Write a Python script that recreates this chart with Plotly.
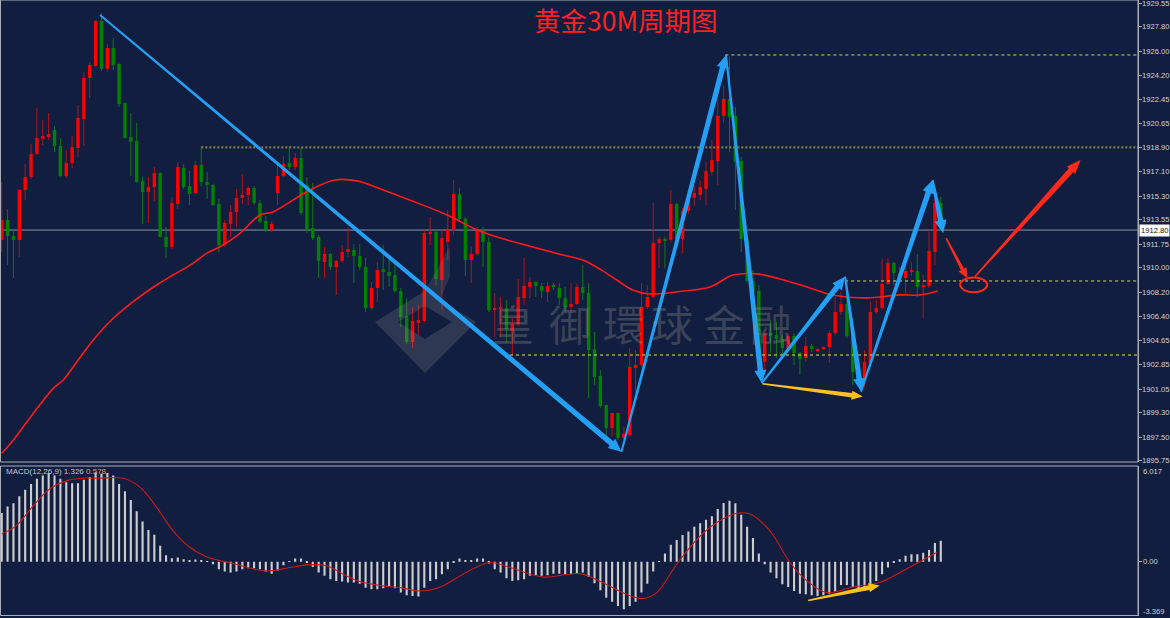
import plotly.graph_objects as go

# ---------------- data ----------------
opens = [1912.07,1913.54,1912.36,1912.07,1915.76,1916.72,1918.42,1919.53,1919.67,1920.19,
         1919.01,1916.79,1917.75,1918.86,1921.00,1924.03,1924.92,1928.24,1924.70,1926.25,
         1925.06,1922.18,1919.67,1919.38,1916.42,1915.61,1915.98,1917.01,1912.29,1911.55,
         1914.72,1917.38,1916.05,1915.54,1917.60,1916.35,1916.13,1914.72,1911.70,1913.25,
         1914.13,1915.17,1915.39,1915.91,1914.80,1913.47,1912.81,1915.54,1916.79,1917.75,
         1917.46,1918.12,1916.13,1912.95,1912.29,1910.44,1911.03,1910.07,1910.52,1911.18,
         1911.33,1910.88,1910.07,1907.04,1908.52,1909.92,1909.70,1909.48,1908.30,1906.45,
         1904.53,1905.94,1906.08,1912.51,1912.66,1909.11,1911.92,1912.88,1915.46,1913.62,
         1910.59,1911.03,1912.73,1911.92,1906.90,1906.97,1907.04,1905.35,1905.86,1907.78,
         1908.60,1908.97,1908.67,1908.23,1908.67,1908.52,1907.78,1907.12,1907.34,1908.60,
         1908.15,1904.01,1902.02,1899.88,1898.18,1899.29,1897.44,1897.67,1902.61,1902.84,
         1907.12,1907.86,1911.84,1912.14,1912.07,1914.72,1912.14,1914.21,1915.17,1915.39,
         1915.83,1917.09,1917.90,1921.23,1922.48,1921.23,1917.90,1912.14,1909.04,1908.30,
         1903.06,1905.20,1905.05,1904.75,1904.09,1904.98,1903.72,1903.35,1904.24,1903.87,
         1904.01,1904.16,1905.20,1906.75,1907.34,1905.05,1902.46,1901.73,1902.98,1906.75,
         1907.04,1908.82,1910.37,1909.63,1909.26,1909.70,1909.78,1908.60,1908.67,1911.18,
         1914.80]
closes = [1913.54,1912.36,1912.07,1915.76,1916.72,1918.42,1919.60,1919.75,1919.89,1919.01,
          1916.79,1917.75,1918.94,1921.08,1924.03,1924.99,1928.24,1924.70,1926.25,1924.99,
          1922.11,1919.60,1919.30,1916.35,1915.61,1915.98,1917.01,1912.29,1911.55,1914.80,
          1917.46,1915.98,1915.46,1917.60,1916.35,1916.13,1914.65,1911.70,1913.32,1914.13,
          1915.17,1915.39,1915.91,1914.80,1913.40,1912.81,1913.25,1916.79,1917.68,1917.46,
          1918.12,1914.06,1912.81,1912.21,1910.52,1911.03,1910.07,1910.52,1911.18,1911.40,
          1910.88,1910.07,1907.04,1908.52,1909.85,1909.70,1909.41,1908.30,1906.38,1904.53,
          1906.08,1906.16,1912.58,1912.58,1909.19,1912.21,1912.88,1915.46,1913.62,1910.59,
          1911.03,1912.73,1911.92,1906.90,1907.04,1907.04,1905.49,1905.86,1907.86,1908.67,
          1908.97,1908.67,1908.30,1908.67,1908.60,1907.78,1907.12,1907.34,1908.60,1908.15,
          1903.94,1901.95,1899.80,1898.18,1899.29,1897.44,1897.74,1902.69,1902.84,1907.12,
          1907.86,1911.84,1912.14,1911.99,1914.72,1912.14,1914.21,1915.17,1915.54,1915.98,
          1917.16,1917.97,1921.23,1922.48,1921.15,1917.83,1912.14,1909.04,1908.30,1903.06,
          1905.12,1904.98,1904.75,1904.09,1904.98,1903.72,1903.28,1904.24,1904.01,1904.01,
          1904.16,1905.20,1906.75,1907.34,1904.98,1902.32,1901.73,1903.06,1906.75,1907.04,
          1908.82,1910.37,1909.63,1909.26,1909.78,1909.85,1908.60,1908.67,1911.25,1914.80,
          1912.80]
highs = [1916.35,1914.35,1912.81,1915.83,1917.68,1919.16,1921.82,1920.93,1921.44,1920.49,
         1919.60,1918.71,1919.75,1922.04,1924.47,1925.21,1928.30,1928.83,1926.54,1926.98,
         1925.10,1922.20,1921.44,1920.71,1916.72,1916.72,1917.46,1917.05,1913.03,1915.24,
         1917.83,1917.68,1917.16,1917.90,1919.01,1917.09,1916.20,1915.10,1913.54,1914.65,
         1915.83,1916.94,1916.05,1916.05,1915.02,1913.84,1913.47,1917.75,1918.27,1919.01,
         1918.49,1918.86,1916.72,1916.27,1912.43,1911.55,1911.10,1910.60,1911.70,1913.03,
         1911.77,1911.77,1910.74,1908.97,1910.44,1911.70,1910.81,1910.59,1908.52,1907.78,
         1907.12,1907.26,1912.81,1913.76,1912.81,1912.81,1914.28,1916.50,1915.91,1913.76,
         1911.62,1913.03,1913.03,1912.29,1908.15,1907.86,1907.63,1906.30,1909.19,1910.74,
         1909.33,1909.00,1908.89,1908.97,1908.89,1908.89,1908.60,1908.89,1908.82,1910.22,
         1908.89,1905.27,1902.46,1899.90,1899.30,1899.30,1898.26,1904.09,1903.94,1908.89,
         1908.74,1914.80,1912.29,1912.29,1915.76,1914.80,1914.43,1915.50,1916.10,1916.50,
         1917.83,1919.45,1924.10,1923.51,1925.60,1921.89,1918.20,1912.29,1909.85,1908.74,
         1905.27,1906.16,1906.01,1905.05,1905.20,1905.20,1903.79,1904.90,1904.38,1904.05,
         1904.20,1905.42,1907.86,1908.23,1909.00,1906.30,1903.06,1903.94,1907.49,1907.63,
         1910.66,1910.74,1910.44,1910.07,1910.59,1910.44,1911.03,1909.48,1912.66,1915.98,
         1915.24]
lows = [1911.18,1910.22,1909.26,1910.81,1915.02,1916.57,1918.35,1919.08,1919.45,1918.57,
        1916.72,1916.64,1917.38,1918.20,1919.01,1922.55,1924.85,1924.55,1924.47,1924.62,
        1921.89,1919.55,1916.79,1916.30,1913.25,1913.32,1914.95,1912.25,1910.74,1911.40,
        1914.35,1915.83,1914.65,1915.50,1916.05,1915.10,1914.58,1911.18,1911.55,1912.29,
        1913.03,1914.72,1914.65,1914.65,1913.32,1912.66,1912.66,1914.65,1916.72,1917.24,
        1917.24,1913.91,1912.58,1912.07,1909.26,1909.26,1909.85,1908.00,1910.37,1910.81,
        1908.89,1909.85,1906.75,1906.90,1907.49,1908.37,1908.60,1908.15,1905.64,1904.38,
        1904.09,1905.05,1905.94,1911.70,1908.74,1906.90,1910.59,1912.43,1913.40,1909.41,
        1908.89,1910.88,1910.07,1906.75,1904.90,1904.90,1904.46,1903.57,1905.72,1907.26,
        1907.78,1907.86,1907.78,1907.49,1908.37,1907.26,1906.67,1906.67,1907.26,1907.63,
        1900.40,1901.36,1899.66,1897.07,1897.59,1897.29,1897.29,1897.52,1900.77,1902.69,
        1906.97,1907.71,1910.00,1910.00,1911.92,1911.99,1911.10,1914.00,1914.60,1915.00,
        1914.65,1916.86,1916.13,1920.71,1918.57,1914.28,1911.18,1908.89,1907.63,1902.10,
        1902.46,1903.72,1903.35,1903.57,1903.94,1902.84,1902.10,1903.06,1903.79,1903.80,
        1903.95,1902.98,1905.05,1906.53,1904.83,1901.36,1901.50,1901.21,1902.84,1906.60,
        1906.90,1908.74,1908.74,1908.97,1908.00,1909.41,1907.86,1906.30,1908.52,1910.22,
        1912.75]

# moving average: (bar index, price)
ma_idx = [0, 2.0, 5.4, 8.8, 10.5, 12.2, 15.6, 18.4, 22.4, 26.4, 29.2, 32.6, 34.9, 37.2, 40.6,
          44.0, 46.3, 52.5, 56.8, 60.5, 65.0, 69.5, 75.9, 81.0, 86.1, 90.5, 95.6, 99.0, 102.0,
          104.8, 107.5, 110.4, 116.1, 120.7, 124.6, 128.7, 132.6, 137.2, 141.6, 147.4, 153.0,
          156.4, 159.5]
ma_val = [1896.31, 1897.30, 1899.27, 1901.11, 1901.73, 1902.71, 1904.68, 1906.03, 1907.51,
          1908.74, 1909.48, 1910.34, 1911.08, 1911.57, 1912.56, 1913.91, 1914.16, 1915.76,
          1916.50, 1916.43, 1915.76, 1915.02, 1913.91, 1912.81, 1912.07, 1911.55, 1910.96,
          1910.59, 1909.90, 1909.11, 1908.38, 1908.08, 1908.30, 1908.60, 1909.48, 1909.56,
          1909.19, 1908.60, 1908.01, 1907.79, 1908.01, 1908.00, 1908.30]

macd_hist = [3.07,3.47,3.68,4.12,4.52,4.89,5.21,5.42,5.57,5.42,5.21,5.00,4.94,4.94,5.15,5.32,
             5.63,5.53,5.57,5.42,4.89,4.43,3.89,3.17,2.54,2.00,1.70,1.01,0.42,0.23,0.27,0.17,
             0.06,0.15,0.10,0.02,-0.15,-0.46,-0.61,-0.67,-0.61,-0.46,-0.40,-0.40,-0.46,-0.61,
             -0.74,-0.53,-0.21,0.02,0.21,0.21,-0.06,-0.32,-0.67,-0.88,-1.09,-1.20,-1.24,-1.30,
             -1.30,-1.37,-1.62,-1.72,-1.72,-1.66,-1.58,-1.66,-1.93,-2.10,-2.14,-2.18,-1.62,
             -1.20,-1.09,-0.78,-0.46,-0.04,0.21,0.10,0.10,0.21,0.21,-0.10,-0.46,-0.67,-1.03,
             -1.20,-1.16,-1.09,-0.88,-0.84,-0.88,-0.84,-0.74,-0.74,-0.78,-0.78,-0.74,-0.67,
             -0.95,-1.34,-1.79,-2.25,-2.50,-2.77,-2.98,-2.77,-2.50,-1.93,-1.37,-0.61,0.02,0.53,
             1.07,1.37,1.68,1.91,2.21,2.42,2.65,2.86,3.32,3.70,3.84,3.68,2.96,2.21,1.49,0.53,
             -0.15,-0.67,-1.03,-1.41,-1.58,-1.83,-2.00,-2.04,-2.10,-2.14,-2.10,-2.00,-1.87,
             -1.45,-1.45,-1.58,-1.66,-1.66,-1.45,-1.20,-0.78,-0.36,-0.06,0.17,0.38,0.48,0.48,
             0.57,0.74,1.18,1.33]
sig_idx = [0, 2.5, 5.4, 8.2, 11.1, 13.9, 16.7, 20.7, 23.6, 26.4, 29.2, 32.1, 34.9, 39.4, 45.1,
           49.1, 52.0, 55.4, 58.2, 61.0, 65.0, 67.9, 71.3, 74.7, 78.1, 80.5, 83.2, 86.6, 92.2,
           98.5, 102.4, 105.8, 109.1, 111.6, 115.0, 118.5, 121.9, 125.3, 127.5, 130.9, 134.3,
           137.2, 140.6, 145.0, 149.6, 153.5, 159.3]
sig_val = [1.74, 2.27, 3.53, 4.58, 5.10, 5.25, 5.25, 5.25, 4.68, 3.42, 1.95, 0.90, 0.32, -0.11,
           -0.57, -0.36, -0.19, -0.25, -0.78, -1.24, -1.51, -1.62, -1.83, -1.58, -0.88, -0.40,
           -0.04, -0.36, -0.95, -0.74, -1.30, -1.93, -2.31, -1.93, -0.15, 1.43, 2.48, 3.05,
           3.00, 1.95, -0.04, -1.20, -1.93, -1.58, -1.30, -0.57, 0.59]

price_ticks = [1929.55, 1927.80, 1926.00, 1924.20, 1922.45, 1920.65, 1918.90, 1917.10, 1915.30,
               1913.55, 1911.75, 1910.00, 1908.20, 1906.40, 1904.65, 1902.85, 1901.05, 1899.30,
               1897.50, 1895.75]
last_price = 1912.80
macd_max, macd_min = 6.017, -3.369
macd_last, signal_last = 1.326, 0.578

# drawn lines / arrows (bar index, price)
blue_arrows = [((16.75, 1928.69), (105.6, 1896.43)),
               ((105.6, 1896.43), (123.4, 1925.73)),
               ((123.4, 1925.73), (129.5, 1901.49)),
               ((129.5, 1901.49), (143.7, 1909.36)),
               ((143.7, 1909.36), (146.4, 1900.87)),
               ((146.4, 1900.87), (158.6, 1916.50)),
               ((158.6, 1916.50), (160.4, 1912.56))]
level_lines = [(34, 1918.90, "#7f7f3c", "2px,2px", 2.2),
               (123.3, 1925.73, "#d6d64a", "3px,3px", 1),
               (86.6, 1903.57, "#e6e640", "3px,3px", 1),
               (143.7, 1909.04, "#d6d64a", "3px,3px", 1)]

# ---------------- layout geometry ----------------
W, H = 1170, 618
PR = 1138          # right edge of plot area (px)
P_BOT = 462        # bottom of price panel (px)
M_TOP, M_BOT = 466, 615.5
XMIN, XMAX = -0.29, 193.6
YMIN, YMAX = 1895.67, 1929.79

BG = "#111e3f"
FONT = "Liberation Sans"
LBL = dict(family=FONT, size=7.6, color="#d0d4dc")
n = len(opens)
idx = list(range(n))

sx = PR / (XMAX - XMIN)
sy = P_BOT / (YMAX - YMIN)
sy2 = (M_BOT - M_TOP) / (macd_max - macd_min)


def pxx(x):
    return x / W


def pxy(y):
    return 1 - y / H


def arrow_path(p0, p1, w0, w1, hl, hw, ky):
    X0, Y0 = p0[0] * sx, p0[1] * ky
    X1, Y1 = p1[0] * sx, p1[1] * ky
    dx, dy = X1 - X0, Y1 - Y0
    L = (dx * dx + dy * dy) ** 0.5
    ux, uy = dx / L, dy / L
    nx, ny = -uy, ux
    bx, by = X1 - ux * hl, Y1 - uy * hl
    pts = [(X0 + nx * w0 / 2, Y0 + ny * w0 / 2), (bx + nx * w1 / 2, by + ny * w1 / 2),
           (bx + nx * hw / 2, by + ny * hw / 2), (X1, Y1),
           (bx - nx * hw / 2, by - ny * hw / 2), (bx - nx * w1 / 2, by - ny * w1 / 2),
           (X0 - nx * w0 / 2, Y0 - ny * w0 / 2)]
    return "M" + " L".join(f"{a / sx:.4f},{b / ky:.4f}" for a, b in pts) + " Z"


fig = go.Figure()

# wicks
for up, col in ((True, "#b3141a"), (False, "#12761a")):
    xs, ys = [], []
    for i in idx:
        if (closes[i] >= opens[i]) != up:
            continue
        top, bot = max(opens[i], closes[i]), min(opens[i], closes[i])
        xs += [i, i, None, i, i, None]
        ys += [max(highs[i], top), top, None, bot, min(lows[i], bot), None]
    fig.add_trace(go.Scatter(x=xs, y=ys, mode="lines", line=dict(color=col, width=1),
                             hoverinfo="skip", showlegend=False, xaxis="x", yaxis="y"))

# bodies
for up, col in ((True, "#ff0000"), (False, "#008200")):
    bx, base, hgt = [], [], []
    for i in idx:
        if (closes[i] >= opens[i]) != up:
            continue
        bx.append(i)
        base.append(min(opens[i], closes[i]))
        hgt.append(max(abs(closes[i] - opens[i]), 0.09))
    fig.add_trace(go.Bar(x=bx, y=hgt, base=base, width=0.58, marker=dict(color=col, line=dict(width=0)),
                         showlegend=False, hoverinfo="skip", xaxis="x", yaxis="y"))

# moving average
fig.add_trace(go.Scatter(x=ma_idx, y=ma_val, mode="lines", line=dict(color="#ff1a1a", width=1.6, shape="spline"),
                         showlegend=False, hoverinfo="skip", xaxis="x", yaxis="y"))

# MACD
fig.add_trace(go.Bar(x=idx, y=macd_hist, width=0.36, marker=dict(color="#cdcdcd", line=dict(width=0)),
                     showlegend=False, hoverinfo="skip", xaxis="x2", yaxis="y2"))
fig.add_trace(go.Scatter(x=sig_idx, y=sig_val, mode="lines", line=dict(color="#d01818", width=1.1, shape="spline"),
                         showlegend=False, hoverinfo="skip", xaxis="x2", yaxis="y2"))

shapes = []
shapes.append(dict(type="line", xref="x", yref="y", x0=XMIN, x1=XMAX, y0=last_price, y1=last_price,
                   line=dict(color="#8e94a4", width=1), layer="below"))
for x0, yv, col, dash, lw in level_lines:
    shapes.append(dict(type="line", xref="x", yref="y", x0=x0, x1=XMAX, y0=yv, y1=yv,
                       line=dict(color=col, width=lw, dash=dash)))


def pp(pts):
    return "M" + " L".join(f"{pxx(a):.5f},{pxy(b):.5f}" for a, b in pts) + " Z"


# watermark logo (faint)
shapes.append(dict(type="path", xref="paper", yref="paper",
                   path=pp([(375, 322), (425, 291), (476, 322), (425, 373)]) + " " +
                   pp([(398, 322), (425, 339), (452, 322), (425, 306)]),
                   fillcolor="rgba(150,150,150,0.22)", line=dict(width=0)))
shapes.append(dict(type="path", xref="paper", yref="paper",
                   path=pp([(425, 291), (450, 246), (450, 276), (440, 300)]),
                   fillcolor="rgba(150,150,150,0.18)", line=dict(width=0)))

for p0, p1 in blue_arrows:
    shapes.append(dict(type="path", xref="x", yref="y", path=arrow_path(p0, p1, 2.0, 5.5, 13, 12, sy),
                       fillcolor="#23a0f6", line=dict(width=0)))
shapes.append(dict(type="path", xref="x", yref="y",
                   path=arrow_path((129.6, 1901.45), (146.7, 1900.50), 1.5, 4.5, 11, 9, sy),
                   fillcolor="#ffc21a", line=dict(width=0)))
shapes.append(dict(type="path", xref="x", yref="y",
                   path=arrow_path((160.9, 1912.20), (164.5, 1909.24), 1.5, 3.5, 10, 9, sy),
                   fillcolor="#ff2a1a", line=dict(width=0)))
shapes.append(dict(type="path", xref="x", yref="y",
                   path=arrow_path((165.8, 1909.36), (183.8, 1917.98), 1.5, 6, 14, 11, sy),
                   fillcolor="#ff2a1a", line=dict(width=0)))
shapes.append(dict(type="circle", xref="x", yref="y", x0=163.3, x1=167.9, y0=1908.21, y1=1909.30,
                   line=dict(color="#ff2a1a", width=2)))
shapes.append(dict(type="path", xref="x2", yref="y2",
                   path=arrow_path((137.4, -2.43), (149.6, -1.48), 1.5, 4.5, 11, 9, sy2),
                   fillcolor="#ffc21a", line=dict(width=0)))

shapes.append(dict(type="rect", xref="paper", yref="paper", x0=pxx(0.5), x1=pxx(PR), y0=pxy(P_BOT), y1=pxy(0),
                   line=dict(color="#a9adb5", width=1)))
shapes.append(dict(type="rect", xref="paper", yref="paper", x0=pxx(0.5), x1=pxx(PR), y0=pxy(M_BOT), y1=pxy(M_TOP),
                   line=dict(color="#a9adb5", width=1)))

annotations = []
annotations.append(dict(xref="paper", yref="paper", x=pxx(625), y=pxy(20), text="黄金30M周期图",
                        showarrow=False, font=dict(family="Noto Sans CJK SC", size=26.5, color="#ff2020"),
                        xanchor="center", yanchor="middle"))
for ch, cx in zip("皇御環球金融", [513, 570, 624, 672, 724, 771]):
    annotations.append(dict(xref="paper", yref="paper", x=pxx(cx), y=pxy(322), text=ch, showarrow=False,
                            font=dict(family="Noto Sans CJK TC", size=42, color="rgba(140,140,140,0.35)"),
                            xanchor="center", yanchor="middle"))
# price scale labels (placed beside the axis ticks)
for v in price_ticks:
    yv = min(v, YMAX - 0.25)
    annotations.append(dict(xref="paper", yref="y", x=pxx(PR + 3), y=yv, text=f"{v:.2f}", showarrow=False,
                            font=LBL, xanchor="left", yanchor="middle", borderpad=0, xshift=0))
annotations.append(dict(xref="paper", yref="y", x=pxx(PR + 1), y=last_price, text=f"{last_price:.2f}",
                        showarrow=False, bgcolor="#ffffff", borderpad=1,
                        font=dict(family=FONT, size=7.6, color="#101010"), xanchor="left", yanchor="middle"))
annotations.append(dict(xref="paper", yref="paper", x=pxx(PR + 3), y=pxy(471), text=f"{macd_max:.3f}",
                        showarrow=False, font=LBL, xanchor="left", yanchor="middle"))
annotations.append(dict(xref="paper", yref="y2", x=pxx(PR + 3), y=0, text="0.00",
                        showarrow=False, font=LBL, xanchor="left", yanchor="middle"))
annotations.append(dict(xref="paper", yref="paper", x=pxx(PR + 3), y=pxy(611), text=f"{macd_min:.3f}",
                        showarrow=False, font=LBL, xanchor="left", yanchor="middle"))
annotations.append(dict(xref="paper", yref="paper", x=pxx(4), y=pxy(471),
                        text=f"MACD(12,26,9) {macd_last:.3f} <span style='color:#e89a6a'>{signal_last:.3f}</span>",
                        showarrow=False, font=dict(family=FONT, size=8, color="#c0c6d2"),
                        xanchor="left", yanchor="middle"))

axis_common = dict(showgrid=False, zeroline=False, automargin=False)
fig.update_layout(
    width=W, height=H, autosize=False, margin=dict(l=0, r=0, t=0, b=0, pad=0),
    paper_bgcolor=BG, plot_bgcolor=BG, showlegend=False, barmode="overlay",
    xaxis=dict(domain=[0, PR / W], range=[XMIN, XMAX], showticklabels=False, showline=False,
               anchor="y", **axis_common),
    xaxis2=dict(domain=[0, PR / W], range=[XMIN, XMAX], showticklabels=False, showline=False,
                anchor="y2", matches="x", **axis_common),
    yaxis=dict(domain=[1 - P_BOT / H, 1], range=[YMIN, YMAX], side="right", anchor="x",
               tickvals=price_ticks, showticklabels=False,
               ticks="outside", ticklen=3, tickcolor="#a9adb5", showline=True, linecolor="#a9adb5",
               **axis_common),
    yaxis2=dict(domain=[1 - M_BOT / H, 1 - M_TOP / H], range=[macd_min, macd_max], side="right", anchor="x2",
                tickvals=[0], showticklabels=False, ticks="outside", ticklen=3, tickcolor="#a9adb5",
                showline=True, linecolor="#a9adb5", **axis_common),
    shapes=shapes, annotations=annotations,
)

fig.write_html("out.html")
